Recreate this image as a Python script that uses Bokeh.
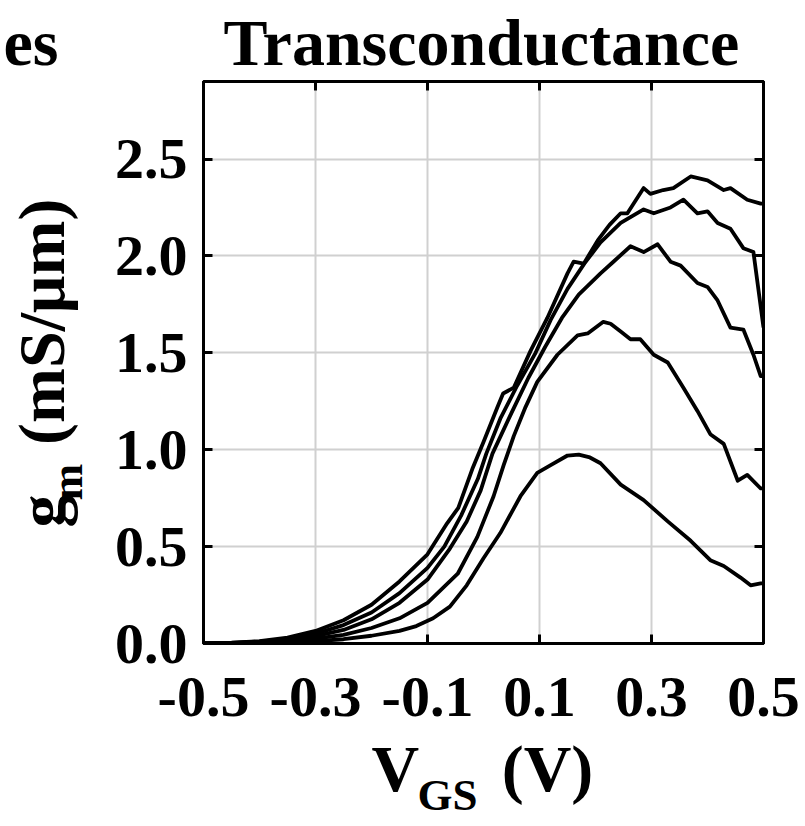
from bokeh.plotting import figure
from bokeh.models import Range1d, FixedTicker, LinearAxis, Title, PrintfTickFormatter
from bokeh.embed import file_html
from bokeh.resources import INLINE

# ---------------- data ----------------
x_ticks = [-0.5, -0.3, -0.1, 0.1, 0.3, 0.5]
y_ticks = [0.0, 0.5, 1.0, 1.5, 2.0, 2.5]

vgs_1 = [-0.5, -0.45, -0.4, -0.35, -0.3, -0.25, -0.2, -0.15, -0.1, -0.065, -0.045, -0.02, 0.0, 0.025,
         0.035, 0.054, 0.084, 0.114, 0.15, 0.161, 0.179, 0.204, 0.225, 0.245, 0.257, 0.286, 0.298,
         0.321, 0.339, 0.37, 0.4, 0.429, 0.441, 0.471, 0.495, 0.5]
gm_1 = [0.0, 0.004, 0.012, 0.03, 0.065, 0.12, 0.2, 0.32, 0.46, 0.62, 0.70, 0.90, 1.04, 1.22,
        1.29, 1.32, 1.51, 1.68, 1.91, 1.97, 1.96, 2.08, 2.16, 2.22, 2.22, 2.35, 2.32,
        2.34, 2.35, 2.41, 2.39, 2.34, 2.35, 2.29, 2.27, 2.27]

vgs_2 = [-0.5, -0.45, -0.4, -0.35, -0.3, -0.25, -0.2, -0.15, -0.1, -0.07, -0.04, -0.01, 0.005, 0.03,
         0.06, 0.093, 0.12, 0.15, 0.18, 0.209, 0.245, 0.286, 0.304, 0.334, 0.357, 0.382, 0.4,
         0.418, 0.441, 0.464, 0.482, 0.5]
gm_2 = [0.0, 0.003, 0.01, 0.024, 0.05, 0.095, 0.16, 0.26, 0.39, 0.50, 0.66, 0.85, 0.98, 1.16,
        1.33, 1.50, 1.67, 1.83, 1.96, 2.07, 2.17, 2.24, 2.22, 2.25, 2.29, 2.22, 2.23,
        2.17, 2.14, 2.04, 2.02, 1.63]

vgs_3 = [-0.5, -0.45, -0.4, -0.35, -0.3, -0.25, -0.2, -0.15, -0.1, -0.06, -0.03, -0.005, 0.016,
         0.05, 0.08, 0.11, 0.14, 0.17, 0.209, 0.232, 0.2625, 0.286, 0.311, 0.334, 0.352, 0.382,
         0.4, 0.418, 0.441, 0.464, 0.482, 0.495, 0.5]
gm_3 = [0.0, 0.002, 0.007, 0.018, 0.038, 0.07, 0.125, 0.21, 0.33, 0.49, 0.63, 0.79, 0.98,
        1.19, 1.37, 1.53, 1.68, 1.80, 1.91, 1.97, 2.05, 2.02, 2.06, 1.97, 1.95, 1.86,
        1.84, 1.77, 1.63, 1.62, 1.49, 1.38, 1.38]

vgs_4 = [-0.5, -0.45, -0.4, -0.35, -0.3, -0.25, -0.2, -0.15, -0.1, -0.046, -0.011, 0.018, 0.036,
         0.054, 0.075, 0.096, 0.132, 0.168, 0.186, 0.214, 0.227, 0.245, 0.2625, 0.28, 0.304,
         0.329, 0.357, 0.382, 0.405, 0.429, 0.454, 0.471, 0.495, 0.5]
gm_4 = [0.0, 0.002, 0.005, 0.012, 0.025, 0.045, 0.08, 0.13, 0.21, 0.36, 0.55, 0.76, 0.92,
        1.07, 1.22, 1.35, 1.49, 1.59, 1.60, 1.66, 1.65, 1.61, 1.57, 1.57, 1.49,
        1.45, 1.32, 1.20, 1.08, 1.03, 0.84, 0.87, 0.80, 0.80]

vgs_5 = [-0.5, -0.45, -0.4, -0.35, -0.3, -0.25, -0.2, -0.15, -0.12, -0.09, -0.06, -0.03, 0.0, 0.03,
         0.066, 0.096, 0.12, 0.15, 0.17, 0.19, 0.209, 0.245, 0.286, 0.329, 0.37, 0.405,
         0.429, 0.459, 0.477, 0.495, 0.5]
gm_5 = [0.0, 0.001, 0.003, 0.006, 0.012, 0.022, 0.04, 0.065, 0.09, 0.13, 0.19, 0.30, 0.44, 0.57,
        0.76, 0.88, 0.92, 0.97, 0.975, 0.96, 0.93, 0.82, 0.74, 0.63, 0.53, 0.43,
        0.40, 0.34, 0.30, 0.31, 0.31]

curves = [(vgs_1, gm_1), (vgs_2, gm_2), (vgs_3, gm_3), (vgs_4, gm_4), (vgs_5, gm_5)]

NB = "\u00a0"
title_text = "es" + NB * 10 + "Transconductance"
xlabel_main = "V" + NB * 5 + "(V)"
xlabel_sub = "GS"
ylabel_main = "g" + NB * 3 + "(mS/μm)"
ylabel_sub = "m"

# ---------------- main figure ----------------
X0, X1, Y0, Y1 = -0.5, 0.5, 0.0, 2.9
W, H = 805, 826
L, R, T, B = 203, 42, 80, 183

p = figure(width=W, height=H, x_range=Range1d(X0, X1), y_range=Range1d(Y0, Y1),
           output_backend="svg", toolbar_location=None,
           min_border_left=L, min_border_right=R, min_border_top=T, min_border_bottom=B,
           background_fill_color="white", border_fill_color="white")

FONT = "Liberation Serif"

p.xaxis.ticker = FixedTicker(ticks=x_ticks)
p.yaxis.ticker = FixedTicker(ticks=y_ticks)
p.xaxis.formatter = PrintfTickFormatter(format="%.1f")
p.yaxis.formatter = PrintfTickFormatter(format="%.1f")
for ax in (p.xaxis[0], p.yaxis[0]):
    ax.axis_line_width = 3
    ax.axis_line_color = "black"
    ax.major_tick_line_width = 3
    ax.major_tick_line_color = "black"
    ax.major_tick_in = 9
    ax.major_tick_out = 0
    ax.minor_tick_line_color = None
    ax.major_label_text_font = FONT
    ax.major_label_text_font_style = "bold"
    ax.major_label_text_color = "black"
    ax.major_label_text_font_size = "58px"
p.xaxis.major_label_standoff = 34
p.yaxis.major_label_standoff = 16

# mirrored ticks on top and right (no labels)
top_ax = LinearAxis(ticker=FixedTicker(ticks=x_ticks),
                    major_label_overrides={t: "" for t in x_ticks})
right_ax = LinearAxis(ticker=FixedTicker(ticks=y_ticks),
                      major_label_overrides={t: "" for t in y_ticks})
for ax in (top_ax, right_ax):
    ax.axis_line_width = 3
    ax.axis_line_color = "black"
    ax.major_tick_line_width = 3
    ax.major_tick_line_color = "black"
    ax.major_tick_in = 9
    ax.major_tick_out = 0
    ax.minor_tick_line_color = None
    ax.major_label_standoff = 0
    ax.major_label_text_font_size = "1px"
p.add_layout(top_ax, "above")
p.add_layout(right_ax, "right")

p.xgrid.ticker = FixedTicker(ticks=x_ticks)
p.ygrid.ticker = FixedTicker(ticks=y_ticks)
p.grid.grid_line_color = "#d0d0d0"
p.grid.grid_line_width = 2
p.outline_line_color = "black"
p.outline_line_width = 3

for v, g in curves:
    p.line(v, g, line_color="black", line_width=3.8, line_join="round")

# ---------------- titles / axis labels as side-panel titles ----------------
def ttl(text, side, size, align, offset, valign, standoff):
    t = Title(text=text, text_font=FONT, text_font_style="bold",
              text_font_size=f"{size}px", text_color="black",
              align=align, offset=offset, vertical_align=valign, standoff=standoff)
    p.add_layout(t, side)

ttl(title_text, "above", 66, "left", -200, "bottom", 6)
ttl(xlabel_main, "below", 66, "left", 168, "top", 26)
ttl(xlabel_sub, "below", 45, "left", 214, "top", -100)
ttl(ylabel_sub, "left", 44, "left", 143, "bottom", 40)
ttl(ylabel_main, "left", 66, "left", 116, "bottom", -114)

open("out.html", "w").write(file_html(p, INLINE))
